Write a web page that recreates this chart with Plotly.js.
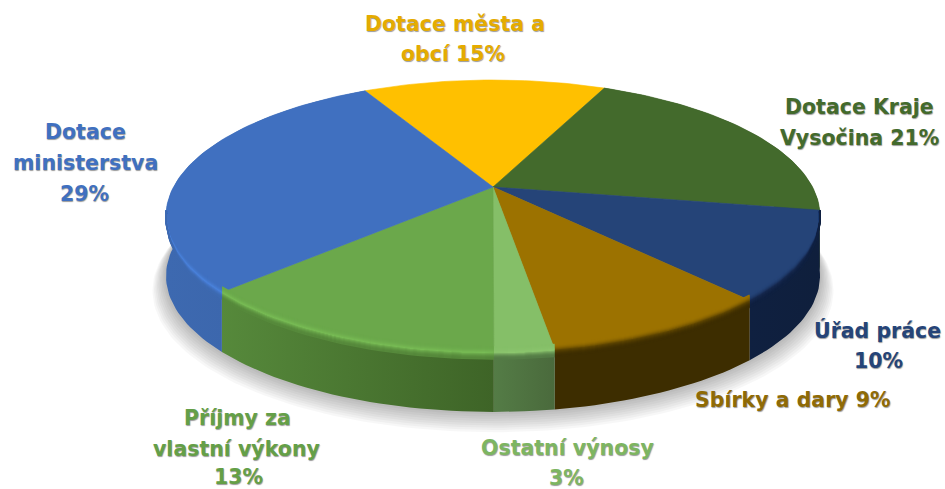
<!DOCTYPE html>
<html><head><meta charset="utf-8">
<script src="https://cdn.plot.ly/plotly-3.0.1.min.js"></script>
<style>html,body{margin:0;padding:0;background:#fff}#c{width:945px;height:489px}</style>
</head><body><div id="c"></div>
<script>
// Data, clockwise from the yellow slice (slice sizes)
const categories = ["Dotace města a obcí","Dotace Kraje Vysočina","Úřad práce","Sbírky a dary","Ostatní výnosy","Příjmy za vlastní výkony","Dotace ministerstva"];
const values = [14.7,20.9,10.4,9.4,2.4,12.9,29.2];
const labelLines = [["Dotace města a","obcí 15%"],["Dotace Kraje","Vysočina 21%"],["Úřad práce","10%"],["Sbírky a dary 9%"],["Ostatní výnosy","3%"],["Příjmy za","vlastní výkony","13%"],["Dotace","ministerstva","29%"]];
// Styles
const faceColors = ["#ffc000","#436a2c","#254478","#9c7200","#85bf68","#6ba84b","#4070c0"];
const textColors = ["#e5ab00","#436a2c","#254478","#8f6a05","#7db561","#649f47","#4070c0"];
const wallStart  = ["#000000","#33521f","#0f2040","#3d2d00","#547c46","#56893b","#3d69b0"];
const wallEnd    = ["#000000","#2a451a","#0f1f3c","#3d2d00","#4a6a3c","#3e6427","#3a62a6"];
const rimColors  = ["#ffc000","#436a2c","#16294f","#5e4500","#8cc66e","#78bc55","#4a82dc"];
// Label placement (centre of each line)
const labelPos = [[[455,24],[453,54]],[[859,107],[859,138]],[[877,330],[878,361]],[[793,400]],[[567,448],[566,478]],[[237,418],[236,449],[238,477]],[[85,132],[85,163],[84,194]]];

// Pie geometry: a tilted disc seen in perspective
const CX=493, CY=187, RX=319.5, RY=129.8, K=0.213, DEPTH=60, START=-28.4;
function pt(deg, dy, scale){
  const t=deg*Math.PI/180, u=Math.sin(t), v=-Math.cos(t), s=1/(1-K*v), f=scale||1;
  return [CX+RX*u*s*f, CY+RY*v*s*f+(dy||0)];
}
function arc(a0,a1,dy,scale){
  const n=Math.max(2,Math.ceil(Math.abs(a1-a0)/1.5)), o=[];
  for(let i=0;i<=n;i++){
    const a=a0+(a1-a0)*i/n;
    const d=typeof dy==='function'?dy(a):dy;
    o.push(pt(a,d,scale));
  }
  return o;
}
function poly(points,extra){
  return Object.assign({type:'scatter',mode:'lines',x:points.map(p=>p[0]),y:points.map(p=>p[1]),
    line:{width:0},hoverinfo:'skip',showlegend:false,fill:'toself'},extra);
}
function hexMix(a,b,t){
  const p=h=>[1,3,5].map(i=>parseInt(h.substr(i,2),16)), A=p(a), B=p(b);
  return 'rgb('+A.map((v,i)=>Math.round(v+(B[i]-v)*t)).join(',')+')';
}

const total=values.reduce((a,b)=>a+b,0);
const spans=[]; let ang=START;
values.forEach(v=>{const e=ang+v/total*360; spans.push([ang,e]); ang=e;});

const traces=[];
// soft shadow below the disc
for(let i=9;i>=1;i--){
  const e=i*1.5;
  traces.push(poly(arc(0,360,DEPTH+e,1+e/327),{fillcolor:'rgba(0,0,0,0.03)'}));
}
// side walls
spans.forEach(([a,b],i)=>{
  if(i===0) return;
  const pts=arc(a,b,0).concat(arc(b,a,DEPTH));
  pts.push(pts[0]);
  traces.push(poly(pts,{fillgradient:{type:'horizontal',colorscale:[[0,wallStart[i]],[1,wallEnd[i]]]},fillcolor:wallStart[i]}));
});
// top faces
spans.forEach(([a,b],i)=>{
  const pts=[[CX,CY]].concat(arc(a,b,0)); pts.push([CX,CY]);
  traces.push(poly(pts,{fillcolor:faceColors[i],line:{width:0.6,color:faceColors[i]}}));
});
// rim bevel, tapering away towards the sides of the disc
function taper(a){
  const v=-Math.cos(a*Math.PI/180);
  return Math.min(1,Math.max(0,(v-0.18)/0.35));
}
spans.forEach(([a,b],i)=>{
  if(i<2) return;
  const a0=Math.max(a,100), b0=Math.min(b,260);
  for(let d=-6;d<=6;d++){
    const t=d<=0?1-Math.abs(d)/6:1-d/6;
    const col=d<=0?hexMix(faceColors[i],rimColors[i],t*t):hexMix(wallStart[i],rimColors[i],t*t);
    const pts=arc(a0,b0,x=>(d+1)*taper(x));
    traces.push({type:'scatter',mode:'lines',x:pts.map(p=>p[0]),y:pts.map(p=>p[1]),
      line:{width:1.5,color:col},hoverinfo:'skip',showlegend:false});
  }
});

const annotations=[];
labelLines.forEach((lines,i)=>lines.forEach((t,j)=>annotations.push({
  x:labelPos[i][j][0],y:labelPos[i][j][1],xref:'x',yref:'y',text:t,showarrow:false,xanchor:'center',yanchor:'middle',
  font:{family:'"DejaVu Sans",Verdana,sans-serif',size:20.5,weight:700,color:textColors[i],shadow:'0.5px 0.5px 1px rgba(0,0,0,0.4)'}
})));

Plotly.newPlot('c',traces,{
  width:945,height:489,margin:{l:0,r:0,t:0,b:0},paper_bgcolor:'#fff',plot_bgcolor:'#fff',showlegend:false,
  xaxis:{range:[0,945],visible:false,fixedrange:true},
  yaxis:{range:[489,0],visible:false,fixedrange:true},
  annotations
},{staticPlot:true,displayModeBar:false});
</script></body></html>
